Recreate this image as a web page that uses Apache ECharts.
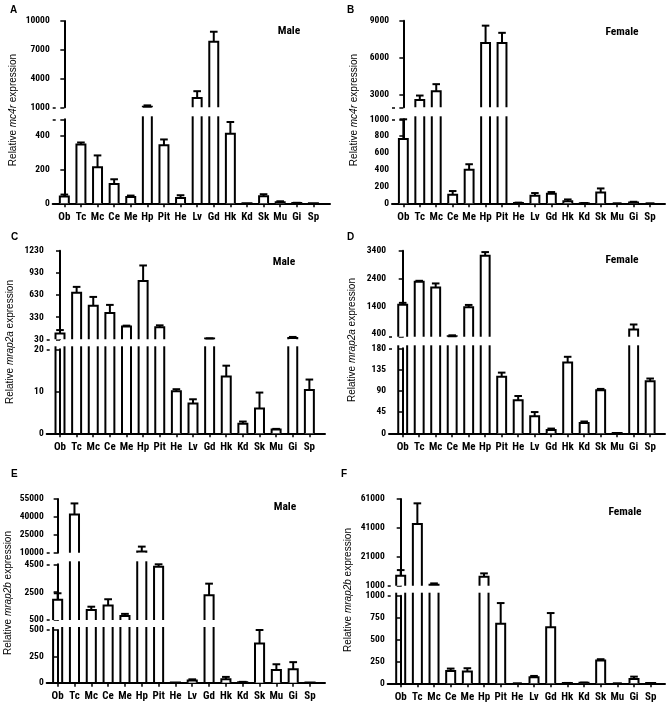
<!DOCTYPE html>
<html><head><meta charset="utf-8">
<script src="https://cdn.jsdelivr.net/npm/echarts@6/dist/echarts.min.js"></script>
<style>html,body{margin:0;padding:0;background:#fff}#c{width:669px;height:715px}</style>
</head><body><div id="c"></div>
<script>
const categories = ['Ob','Tc','Mc','Ce','Me','Hp','Pit','He','Lv','Gd','Hk','Kd','Sk','Mu','Gi','Sp'];

// A: mc4r, male
const mc4rMaleMean = [40,350,215,115,38,1060,345,32,1980,7830,414,1,42,6,2,1];
const mc4rMaleErr  = [12,12,70,28,8,140,35,16,700,1050,70,0,12,6,1,0];
// B: mc4r, female
const mc4rFemaleMean = [765,2600,3290,102,400,7200,7200,5,90,114,24,2,130,0,10,0];
const mc4rFemaleErr  = [235,350,580,44,65,1400,820,3,32,20,22,1,47,0,8,0];
// C: mrap2a, male
const mrap2aMaleMean = [110,660,486,386,203,820,194,10,7.1,40,13.5,2.3,5.9,0.9,48,10.3];
const mrap2aMaleErr  = [45,80,118,110,12,210,25,0.5,1.0,3,2.6,0.5,3.8,0.15,14,2.5];
// D: mrap2a, female
const mrap2aFemaleMean = [1450,2280,2075,320,1365,3220,120,70,36,7,150,22,91,0.5,560,110];
const mrap2aFemaleErr  = [70,35,145,30,80,130,8.5,9,9,3,12,3,3,0,180,6];
// E: mrap2b, male
const mrap2bMaleMean = [1960,42000,1210,1550,790,11100,4330,1,20,2280,32,5,373,120,127,2];
const mrap2bMaleErr  = [460,9300,245,440,150,4000,170,0,12,830,23,3,130,55,68,0];
// F: mrap2b, female
const mrap2bFemaleMean = [7900,43700,1700,141,134,7230,680,0,69,641,3,5,260,0,50,2];
const mrap2bFemaleErr  = [3900,14300,900,27,38,2300,236,0,15,161,1,3,15,0,26,0];

// axis segment ranges and tick labels
const aUpperRange = [1000,10000], aUpperTicks = [1000,4000,7000,10000], aUpperExtra = [];
const aLowerRange = [0,500],      aLowerTicks = [0,200,400],            aLowerExtra = [500];
const bUpperRange = [2000,9000],  bUpperTicks = [3000,6000,9000],       bUpperExtra = [2000];
const bLowerRange = [0,1000],     bLowerTicks = [0,200,400,600,800,1000], bLowerExtra = [];
const cUpperRange = [30,1230],    cUpperTicks = [30,330,630,930,1230],  cUpperExtra = [];
const cLowerRange = [0,20],       cLowerTicks = [0,10,20],              cLowerExtra = [];
const dUpperRange = [300,3400],   dUpperTicks = [400,1400,2400,3400],   dUpperExtra = [300];
const dLowerRange = [0,180],      dLowerTicks = [0,45,90,135,180],      dLowerExtra = [];
const eTopRange = [10000,55000],  eTopTicks = [10000,25000,40000,55000], eTopExtra = [];
const eMidRange = [500,4500],     eMidTicks = [500,2500,4500],          eMidExtra = [];
const eLowRange = [0,500],        eLowTicks = [0,250,500],              eLowExtra = [];
const fUpperRange = [1000,61000], fUpperTicks = [1000,21000,41000,61000], fUpperExtra = [];
const fLowerRange = [0,1000],     fLowerTicks = [0,250,500,750,1000],   fLowerExtra = [];

const NARROW = "'Roboto Condensed','Liberation Sans',Arial,sans-serif";
const REG = "'Liberation Sans',Arial,sans-serif";

const panels = [
  {letter:'A', sex:'Male', gene:'mc4r', mean:mc4rMaleMean, err:mc4rMaleErr,
   left:52.7, right:330, xmin:-0.70, xmax:16.0,
   segs:[{range:aUpperRange,ticks:aUpperTicks,extra:aUpperExtra,top:21,bottom:107.3},
         {range:aLowerRange,ticks:aLowerTicks,extra:aLowerExtra,top:119.3,bottom:203.3}],
   lx:10, ly:10, sx:289, sy:31, tx:13, ty:110},
  {letter:'B', sex:'Female', gene:'mc4r', mean:mc4rFemaleMean, err:mc4rFemaleErr,
   left:392, right:665, xmin:-0.69, xmax:15.91,
   segs:[{range:bUpperRange,ticks:bUpperTicks,extra:bUpperExtra,top:20.7,bottom:107.3},
         {range:bLowerRange,ticks:bLowerTicks,extra:bLowerExtra,top:119.3,bottom:203.3}],
   lx:347, ly:10, sx:622, sy:32, tx:354, ty:110},
  {letter:'C', sex:'Male', gene:'mrap2a', mean:mrap2aMaleMean, err:mrap2aMaleErr,
   left:46.7, right:325, xmin:-0.80, xmax:15.94,
   segs:[{range:cUpperRange,ticks:cUpperTicks,extra:cUpperExtra,top:250.7,bottom:339.3},
         {range:cLowerRange,ticks:cLowerTicks,extra:cLowerExtra,top:349.3,bottom:433.3}],
   lx:11, ly:237, sx:284, sy:262, tx:10, ty:342},
  {letter:'D', sex:'Female', gene:'mrap2a', mean:mrap2aFemaleMean, err:mrap2aFemaleErr,
   left:389, right:665, xmin:-0.83, xmax:15.9,
   segs:[{range:dUpperRange,ticks:dUpperTicks,extra:dUpperExtra,top:250.7,bottom:336.7},
         {range:dLowerRange,ticks:dLowerTicks,extra:dLowerExtra,top:348.3,bottom:433.3}],
   lx:347, ly:237, sx:622, sy:260, tx:352, ty:340},
  {letter:'E', sex:'Male', gene:'mrap2b', mean:mrap2bMaleMean, err:mrap2bMaleErr,
   left:46.7, right:325, xmin:-0.65, xmax:15.89,
   segs:[{range:eTopRange,ticks:eTopTicks,extra:eTopExtra,top:499,bottom:552.7},
         {range:eMidRange,ticks:eMidTicks,extra:eMidExtra,top:564.3,bottom:620},
         {range:eLowRange,ticks:eLowTicks,extra:eLowExtra,top:630,bottom:682.7}],
   lx:11, ly:474, sx:285, sy:507, tx:8, ty:593},
  {letter:'F', sex:'Female', gene:'mrap2b', mean:mrap2bFemaleMean, err:mrap2bFemaleErr,
   left:387.7, right:665, xmin:-0.78, xmax:15.86,
   segs:[{range:fUpperRange,ticks:fUpperTicks,extra:fUpperExtra,top:499,bottom:585.7},
         {range:fLowerRange,ticks:fLowerTicks,extra:fLowerExtra,top:595.7,bottom:683.3}],
   lx:341, ly:474, sx:625, sy:512, tx:348, ty:590}
];

const grids = [], xAxes = [], yAxes = [], series = [], graphics = [];
const idx = categories.map((c,i)=>i);

function makeRender(lo, hi, isBottom) {
  return function (params, api) {
    const i = api.value(0), v = api.value(1), e = api.value(2);
    if (!isBottom && v <= lo) return null;
    const base = api.coord([i, lo]);
    const cx = base[0], yBase = base[1];
    const band = api.size([1, 0])[0];
    const hw = band * 0.27;
    const clipped = v > hi;
    const yTop = clipped ? api.coord([i, hi])[1] - 3 : api.coord([i, v])[1];
    const st = {stroke:'#000', lineWidth:2, fill:null};
    const ch = [];
    if (clipped) {
      ch.push({type:'line', shape:{x1:cx-hw,y1:yBase,x2:cx-hw,y2:yTop}, style:st});
      ch.push({type:'line', shape:{x1:cx+hw,y1:yBase,x2:cx+hw,y2:yTop}, style:st});
    } else {
      if (e > 0) {
        const yE = api.coord([i, Math.min(v + e, hi)])[1];
        ch.push({type:'line', shape:{x1:cx,y1:yTop,x2:cx,y2:yE}, style:st});
        ch.push({type:'line', shape:{x1:cx-hw*0.85,y1:yE,x2:cx+hw*0.85,y2:yE}, style:st});
      }
      ch.push({type:'polyline', shape:{points:[[cx-hw,yBase],[cx-hw,yTop],[cx+hw,yTop],[cx+hw,yBase]]},
               style:{stroke:'#000', lineWidth:2, fill:'#fff'}});
    }
    return {type:'group', children:ch};
  };
}

panels.forEach(p => {
  p.segs.forEach((s, k) => {
    const gi = grids.length;
    const isBottom = k === p.segs.length - 1;
    const isTop = k === 0;
    const breaks = [];
    if (!isTop) breaks.push(s.range[1]);
    if (!isBottom) breaks.push(s.range[0]);
    grids.push({left:p.left, top:s.top, width:p.right - p.left, height:s.bottom - s.top,
                containLabel:false, outerBoundsMode:'none'});
    xAxes.push({type:'value', gridIndex:gi, min:p.xmin, max:p.xmax, show:isBottom,
      axisLine:{show:true, onZero:false, lineStyle:{color:'#000', width:2}},
      axisTick:{show:true, customValues:idx, length:4, lineStyle:{color:'#000', width:1.5}},
      axisLabel:{show:true, customValues:idx, formatter:v => categories[Math.round(v)] || '',
                 color:'#000', fontSize:11, fontWeight:'bold', fontFamily:NARROW, margin:8},
      splitLine:{show:false}});
    yAxes.push({type:'value', gridIndex:gi, min:s.range[0], max:s.range[1],
      axisLine:{show:true, lineStyle:{color:'#000', width:2}},
      axisTick:{show:true, customValues:s.ticks.concat(s.extra), length:4, lineStyle:{color:'#000', width:1.5}},
      axisLabel:{show:true, customValues:s.ticks, formatter:v => String(v), color:'#000', fontSize:9.5, fontWeight:'bold',
                 fontFamily:NARROW, margin:3},
      splitLine:{show:false}});
    if (breaks.length) {
      yAxes.push({type:'value', gridIndex:gi, min:s.range[0], max:s.range[1], position:'left',
        axisLine:{show:false}, axisLabel:{show:false}, splitLine:{show:false},
        axisTick:{show:true, inside:true, customValues:breaks, length:3, lineStyle:{color:'#000', width:1.5}}});
    }
    series.push({type:'custom', xAxisIndex:gi, yAxisIndex:yAxes.length - (breaks.length ? 2 : 1), clip:false,
      renderItem:makeRender(s.range[0], s.range[1], isBottom),
      encode:{x:0, y:1},
      data:categories.map((c,i)=>[i, p.mean[i], p.err[i]])});
  });
  graphics.push({type:'text', x:p.lx, y:p.ly,
    style:{text:p.letter, font:'bold 10px ' + REG, fill:'#000', align:'left', verticalAlign:'middle'}});
  graphics.push({type:'text', x:p.sx, y:p.sy,
    style:{text:p.sex, font:'bold 11.5px ' + NARROW, fill:'#000', align:'center', verticalAlign:'middle'}});
  graphics.push({type:'text', x:p.tx, y:p.ty, rotation:Math.PI/2,
    style:{text:'{n|Relative }{i|' + p.gene + '}{n| expression}', align:'center', verticalAlign:'middle',
      rich:{n:{fontSize:10, fontFamily:REG, fontStyle:'normal', fontWeight:'normal', fill:'#000'},
            i:{fontSize:10, fontFamily:REG, fontStyle:'italic', fontWeight:'normal', fill:'#000'}}}});
});

const chart = echarts.init(document.getElementById('c'), null, {renderer:'canvas'});
chart.setOption({
  backgroundColor:'#fff', animation:false,
  grid:grids, xAxis:xAxes, yAxis:yAxes, series:series, graphic:graphics
});
</script></body></html>
